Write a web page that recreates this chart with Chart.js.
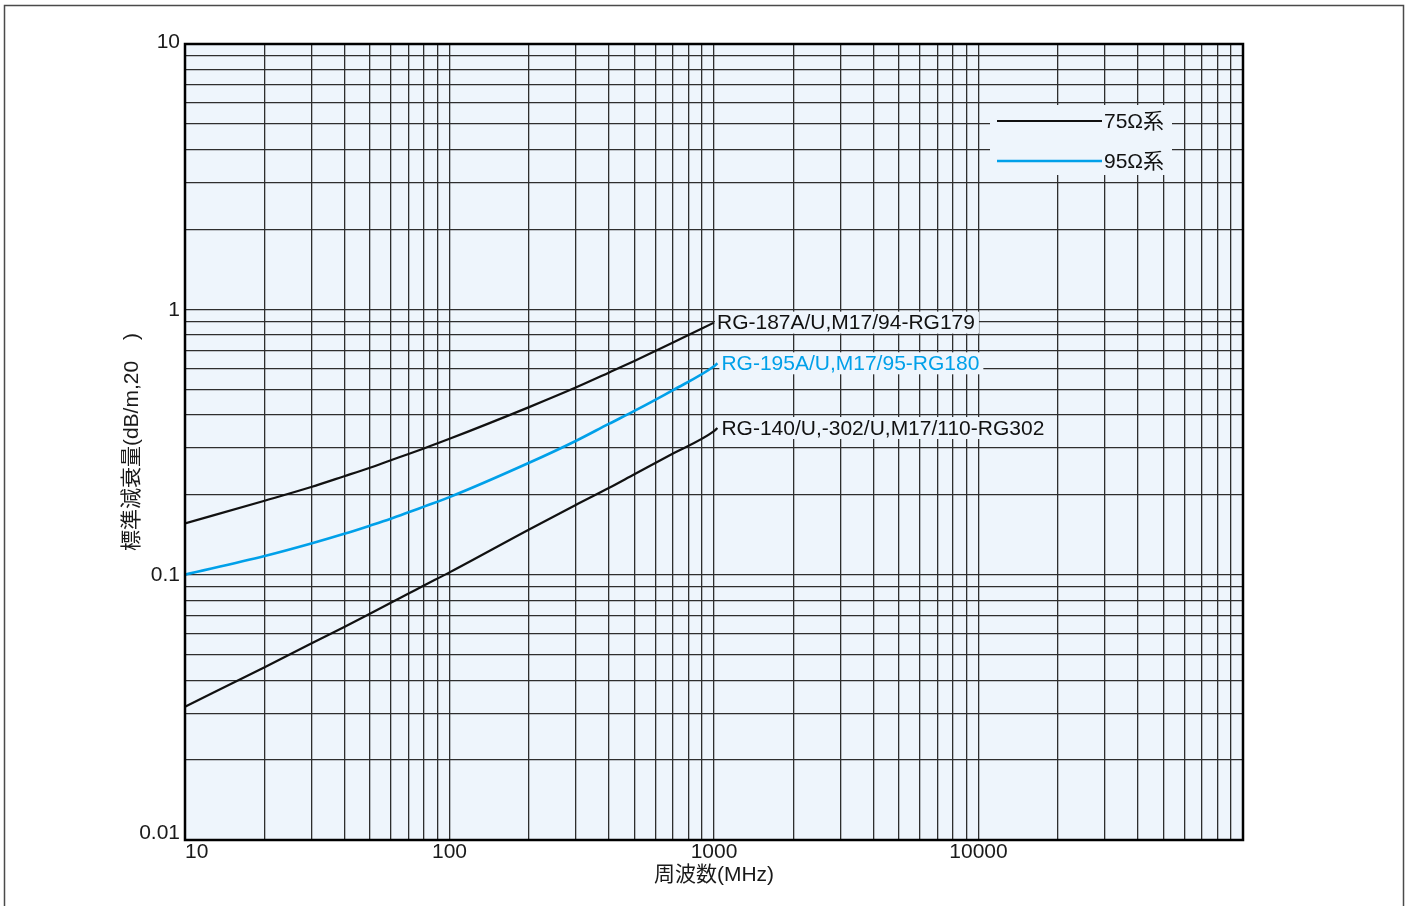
<!DOCTYPE html>
<html lang="ja">
<head>
<meta charset="UTF-8">
<title>標準減衰量</title>
<script src="https://cdn.jsdelivr.net/npm/chart.js"></script>
<style>
  html, body { margin: 0; padding: 0; background: #fff; }
  canvas { display: block; }
</style>
</head>
<body>
<canvas id="lossChart" width="1405" height="906"></canvas>
<script>
// frequency (MHz)
const freq = [10, 20, 30, 40, 50, 60, 70, 80, 100, 200, 300, 400, 500, 700, 1000];
const freqLong = [10, 20, 30, 40, 50, 60, 70, 80, 100, 200, 300, 400, 500, 700, 1000, 1030];

// attenuation (dB/m)
const rg187 = [0.156, 0.190, 0.214, 0.235, 0.253, 0.270, 0.285, 0.299, 0.325, 0.428, 0.507, 0.577, 0.639, 0.750, 0.891];
const rg195 = [0.100, 0.1175, 0.131, 0.1425, 0.153, 0.1625, 0.1718, 0.1805, 0.196, 0.264, 0.319, 0.370, 0.414, 0.496, 0.610, 0.626];
const rg140 = [0.0318, 0.0448, 0.0550, 0.0635, 0.0712, 0.0784, 0.0849, 0.0910, 0.102, 0.148, 0.183, 0.212, 0.239, 0.286, 0.3475, 0.357];

const seriesNames = ['RG-187A/U,M17/94-RG179', 'RG-195A/U,M17/95-RG180', 'RG-140/U,-302/U,M17/110-RG302'];
const legendNames = ['75Ω系', '95Ω系'];
const xTickLabels = [10, 100, 1000, 10000];
const yTickLabels = [0.01, 0.1, 1, 10];

const BLACK = '#111111';
const BLUE = '#00a0e9';
const PLOT_BG = '#eef5fc';
const FONT = '"Liberation Sans", Arial, "Noto Sans CJK JP", sans-serif';

// every 1..9 line of each decade
function decadeLines(min, max) {
    const out = [];
    for (let d = min; d < max; d *= 10) {
        for (let m = 1; m < 10; m++) out.push(+(d * m).toPrecision(3));
    }
    out.push(max);
    return out;
}

function pts(xs, ys) {
    return ys.map((y, i) => ({ x: xs[i], y: y }));
}

const paper = {
    id: 'paper',
    beforeDraw(chart) {
        const { ctx, chartArea: a } = chart;
        ctx.save();
        ctx.fillStyle = '#fff';
        ctx.fillRect(0, 0, chart.width, chart.height);
        ctx.strokeStyle = '#4a4a4a';
        ctx.lineWidth = 1.5;
        ctx.strokeRect(4.5, 5.5, 1399, 960);
        ctx.fillStyle = PLOT_BG;
        ctx.fillRect(a.left, a.top, a.right - a.left, a.bottom - a.top);
        ctx.restore();
    },
    afterDatasetsDraw(chart) {
        const { ctx, chartArea: a } = chart;
        ctx.save();
        ctx.font = '21px ' + FONT;
        ctx.textBaseline = 'middle';
        ctx.textAlign = 'left';

        // labels at the end of each curve
        const offsets = [3, 4, 4];
        chart.data.datasets.forEach((ds, i) => {
            const meta = chart.getDatasetMeta(i);
            const last = meta.data[meta.data.length - 1];
            const tx = last.x + offsets[i];
            const w = ctx.measureText(seriesNames[i]).width;
            ctx.fillStyle = PLOT_BG;
            ctx.fillRect(tx - 2, last.y - 11, w + 6, 22);
            ctx.fillStyle = ds.borderColor;
            ctx.fillText(seriesNames[i], tx, last.y + 1);
        });

        // legend box
        const right = a.right - 71;
        const left = right - 182;
        const top = a.top + 61;
        ctx.fillStyle = PLOT_BG;
        ctx.fillRect(left, top, 182, 70);
        const colors = [BLACK, BLUE];
        const widths = [2, 2.5];
        legendNames.forEach((name, i) => {
            const y = top + 16 + i * 40;
            ctx.strokeStyle = colors[i];
            ctx.lineWidth = widths[i];
            ctx.beginPath();
            ctx.moveTo(left + 7, y);
            ctx.lineTo(left + 112, y);
            ctx.stroke();
            ctx.fillStyle = '#111';
            ctx.fillText(name, left + 114, y + 1);
        });
        ctx.restore();
    },
    afterDraw(chart) {
        const { ctx, chartArea: a } = chart;
        const xs = chart.scales.x;
        const ys = chart.scales.y;
        ctx.save();
        ctx.strokeStyle = '#000';
        ctx.lineWidth = 2.5;
        ctx.strokeRect(a.left, a.top, a.right - a.left, a.bottom - a.top);

        ctx.font = '21px ' + FONT;
        ctx.fillStyle = '#1a1a1a';
        ctx.textBaseline = 'middle';

        xTickLabels.forEach(v => {
            const px = xs.getPixelForValue(v);
            ctx.textAlign = v === xs.min ? 'left' : 'center';
            ctx.fillText(String(v), px, a.bottom + 12);
        });
        ctx.textAlign = 'right';
        yTickLabels.forEach(v => {
            let py = ys.getPixelForValue(v) + 1;
            if (v === ys.min) py -= 8;
            if (v === ys.max) py -= 3;
            ctx.fillText(String(v), a.left - 5, py);
        });

        ctx.textAlign = 'center';
        ctx.fillText('周波数(MHz)', (a.left + a.right) / 2, a.bottom + 35);

        ctx.translate(a.left - 53, (a.top + a.bottom) / 2);
        ctx.rotate(-Math.PI / 2);
        ctx.fillText('標準減衰量(dB/m,20　)', 0, 0);
        ctx.restore();
    }
};

const gridOpts = { color: '#2e2e2e', lineWidth: 1.3, drawTicks: false };

new Chart(document.getElementById('lossChart'), {
    type: 'line',
    data: {
        datasets: [
            { data: pts(freq, rg187), borderColor: BLACK, borderWidth: 2.2 },
            { data: pts(freqLong, rg195), borderColor: BLUE, borderWidth: 2.6 },
            { data: pts(freqLong, rg140), borderColor: BLACK, borderWidth: 2.2 }
        ]
    },
    options: {
        responsive: false,
        animation: false,
        devicePixelRatio: 1,
        layout: { padding: { left: 185, right: 162, top: 44, bottom: 66 } },
        elements: {
            point: { radius: 0 },
            line: { cubicInterpolationMode: 'monotone', fill: false }
        },
        scales: {
            x: {
                type: 'logarithmic',
                min: 10,
                max: 100000,
                grid: gridOpts,
                border: { display: false },
                ticks: { display: false, autoSkip: false },
                afterBuildTicks: s => { s.ticks = decadeLines(10, 100000).map(v => ({ value: v })); }
            },
            y: {
                type: 'logarithmic',
                min: 0.01,
                max: 10,
                grid: gridOpts,
                border: { display: false },
                ticks: { display: false, autoSkip: false },
                afterBuildTicks: s => { s.ticks = decadeLines(0.01, 10).map(v => ({ value: v })); }
            }
        },
        plugins: {
            legend: { display: false },
            tooltip: { enabled: false }
        }
    },
    plugins: [paper]
});
</script>
</body>
</html>
